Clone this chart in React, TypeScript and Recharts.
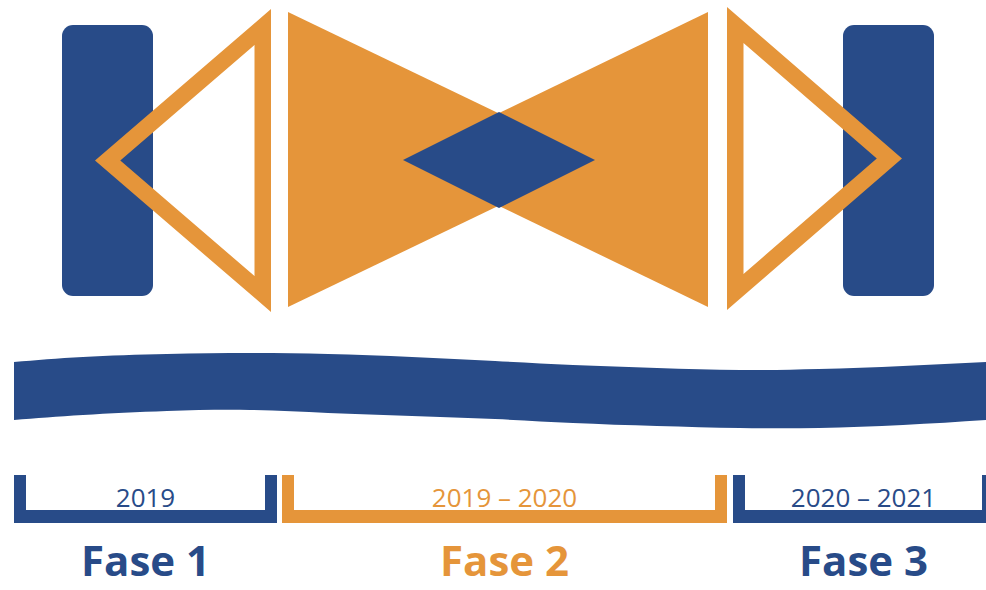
import { Area, ComposedChart, ReferenceArea, ReferenceDot, XAxis, YAxis } from "recharts";

const BLUE = "#284b88";
const ORANGE = "#e5953a";
const FONT = "'Open Sans', 'Noto Sans', sans-serif";

// phases along the bottom
const phaseLabels = ["Fase 1", "Fase 2", "Fase 3"];
const periodLabels = ["2019", "2019 – 2020", "2020 – 2021"];
const phaseFrom = [14, 282, 733];
const phaseTo = [277, 727, 994];
const phaseColors = [BLUE, ORANGE, BLUE];

// wave band (top / bottom edge)
const waveX = [14, 83, 167, 250, 328, 412, 495, 573, 657, 740, 819, 903, 986];
const waveTop = [362, 357, 354, 353, 354, 357, 361, 365, 368, 370, 369, 366, 362];
const waveBottom = [420, 415, 411, 410, 413, 416, 419, 423, 426, 428, 428, 425, 420];

// blue end blocks
const blockFrom = [62, 843];
const blockTo = [153, 934];
const blockTop = 25;
const blockBottom = 296;

// hollow triangles: tip x and base x
const hollowTip = [95, 902];
const hollowBase = [271, 727];
const hollowTop = [9, 7];
const hollowBottom = [312, 310];

// bow tie: filled triangles, base x and tip x
const bowBase = [288, 708];
const bowTip = [595, 403];
const bowTop = 12;
const bowBottom = 307;

// centre diamond
const diamondX = [403, 595];
const diamondY = [112, 208];

const waveData = waveX.map((x, i) => ({ x, band: [waveTop[i], waveBottom[i]] }));

type Pt = [number, number];

function insetTriangle(pts: Pt[], d: number): Pt[] {
  const [a, b, c] = pts;
  const la = Math.hypot(b[0] - c[0], b[1] - c[1]);
  const lb = Math.hypot(a[0] - c[0], a[1] - c[1]);
  const lc = Math.hypot(a[0] - b[0], a[1] - b[1]);
  const p = la + lb + lc;
  const ix = (la * a[0] + lb * b[0] + lc * c[0]) / p;
  const iy = (la * a[1] + lb * b[1] + lc * c[1]) / p;
  const s = p / 2;
  const area = Math.sqrt(s * (s - la) * (s - lb) * (s - lc));
  const r = area / s;
  const k = (r - d) / r;
  return pts.map(([x, y]) => [ix + (x - ix) * k, iy + (y - iy) * k] as Pt);
}

const toPath = (pts: Pt[]) => "M" + pts.map((q) => q.join(",")).join("L") + "Z";

function triangleShape(pointLeft: boolean, color: string, thickness: number) {
  return (props: any) => {
    const { x, y, width, height } = props;
    const pts: Pt[] = pointLeft
      ? [[x, y + height / 2], [x + width, y], [x + width, y + height]]
      : [[x + width, y + height / 2], [x, y], [x, y + height]];
    let d = toPath(pts);
    if (thickness > 0) d += toPath(insetTriangle(pts, thickness));
    return <path d={d} fill={color} fillRule="evenodd" />;
  };
}

const diamondShape = (props: any) => {
  const { x, y, width, height } = props;
  const pts: Pt[] = [[x, y + height / 2], [x + width / 2, y], [x + width, y + height / 2], [x + width / 2, y + height]];
  return <path d={toPath(pts)} fill={BLUE} />;
};

const roundedShape = (props: any) => (
  <rect x={props.x} y={props.y} width={props.width} height={props.height} rx={11} ry={11} fill={BLUE} />
);

function textShape(label: string, color: string, size: number, weight: number) {
  return (props: any) => (
    <text x={props.cx} y={props.cy} textAnchor="middle" fill={color} fontSize={size} fontWeight={weight} fontFamily={FONT}>
      {label}
    </text>
  );
}

const BAR = 12;
const bracketTop = 475;
const bracketBottom = 523;

export default function App() {
  return (
    <div style={{ position: "absolute", left: 0, top: 0, background: "#fff" }}>
      <ComposedChart width={986} height={590} data={waveData} margin={{ top: 0, right: 0, bottom: 0, left: 0 }}>
        <XAxis type="number" dataKey="x" domain={[0, 986]} hide allowDataOverflow />
        <YAxis type="number" domain={[0, 590]} reversed hide allowDataOverflow />

        {blockFrom.map((x1, i) => (
          <ReferenceArea key={"b" + i} x1={x1} x2={blockTo[i]} y1={blockTop} y2={blockBottom} ifOverflow="visible" shape={roundedShape} />
        ))}
        {hollowTip.map((tip, i) => (
          <ReferenceArea
            key={"h" + i}
            x1={Math.min(tip, hollowBase[i])}
            x2={Math.max(tip, hollowBase[i])}
            y1={hollowTop[i]}
            y2={hollowBottom[i]}
            ifOverflow="visible"
            shape={triangleShape(tip < hollowBase[i], ORANGE, 16.5)}
          />
        ))}
        {bowBase.map((base, i) => (
          <ReferenceArea
            key={"w" + i}
            x1={Math.min(base, bowTip[i])}
            x2={Math.max(base, bowTip[i])}
            y1={bowTop}
            y2={bowBottom}
            ifOverflow="visible"
            shape={triangleShape(bowTip[i] < base, ORANGE, 0)}
          />
        ))}
        <ReferenceArea x1={diamondX[0]} x2={diamondX[1]} y1={diamondY[0]} y2={diamondY[1]} ifOverflow="visible" shape={diamondShape} />

        <Area
          type="natural"
          dataKey="band"
          stroke="none"
          fill={BLUE}
          fillOpacity={1}
          isAnimationActive={false}
          activeDot={false}
          dot={false}
        />

        {phaseFrom.map((from, i) => {
          const to = phaseTo[i];
          const c = phaseColors[i];
          return [
            <ReferenceArea key={"l" + i} x1={from} x2={from + BAR} y1={bracketTop} y2={bracketBottom} fill={c} fillOpacity={1} ifOverflow="visible" />,
            <ReferenceArea key={"r" + i} x1={to - BAR} x2={to} y1={bracketTop} y2={bracketBottom} fill={c} fillOpacity={1} ifOverflow="visible" />,
            <ReferenceArea key={"m" + i} x1={from} x2={to} y1={bracketBottom - 13} y2={bracketBottom} fill={c} fillOpacity={1} ifOverflow="visible" />,
            <ReferenceDot key={"p" + i} x={(from + to) / 2} y={507} r={0} ifOverflow="visible" shape={textShape(periodLabels[i], c, 26, 400)} />,
            <ReferenceDot key={"f" + i} x={(from + to) / 2} y={576} r={0} ifOverflow="visible" shape={textShape(phaseLabels[i], c, 42, 700)} />,
          ];
        })}
      </ComposedChart>
    </div>
  );
}
